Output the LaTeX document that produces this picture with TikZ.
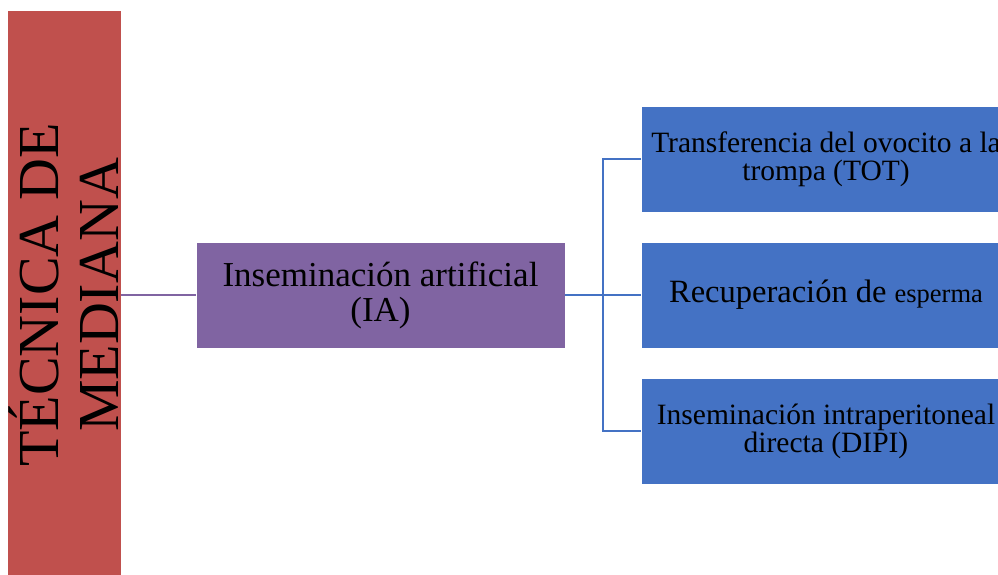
\documentclass[tikz,border=0pt]{standalone}
\usepackage{fontspec}
\setmainfont{Liberation Serif}
\usepackage{xcolor}
\usetikzlibrary{positioning}

\definecolor{tecred}{HTML}{C0504D}
\definecolor{iapurple}{HTML}{8064A2}
\definecolor{subblue}{HTML}{4472C4}

\begin{document}
\begin{tikzpicture}[x=1pt,y=-1pt,
    box/.style={rectangle,draw=white,line width=0.6pt,inner sep=2pt,align=center},
    subbox/.style={box,fill=subblue,minimum width=370pt,minimum height=106pt,
        font=\fontsize{29.5}{28}\selectfont},
    link/.style={line width=2pt}]
    \useasboundingbox (0,0) rectangle (998,575);
    \clip (0,0) rectangle (998,575);

    % Left band
    \node[box,fill=tecred,rotate=90,minimum width=570pt,minimum height=110pt,
        font=\fontsize{58}{60}\selectfont] (tecnica) at (64,295) {TÉCNICA DE\\MEDIANA};

    % Main technique
    \node[box,fill=iapurple,minimum width=369pt,minimum height=106pt,
        font=\fontsize{35}{35}\selectfont] (ia) at (380.5,295) {Inseminación artificial\\(IA)};

    % Sub techniques
    \node[subbox] (tot) at (826,159) {Transferencia del ovocito a la\\trompa (TOT)};
    \node[subbox,font=\fontsize{32.5}{30}\selectfont] (rec) at (826,295)
        {Recuperación de {\fontsize{26.5}{28}\selectfont esperma}};
    \node[subbox] (dipi) at (826,431) {Inseminación intraperitoneal\\directa (DIPI)};

    % Connectors
    \draw[link,iapurple] (tecnica.south) -- (ia.west);
    \coordinate (split) at (603,295);
    \draw[link,subblue] (ia.east) -- (split);
    \draw[link,subblue] (split) |- (tot.west);
    \draw[link,subblue] (split) -- (rec.west);
    \draw[link,subblue] (split) |- (dipi.west);
\end{tikzpicture}
\end{document}
